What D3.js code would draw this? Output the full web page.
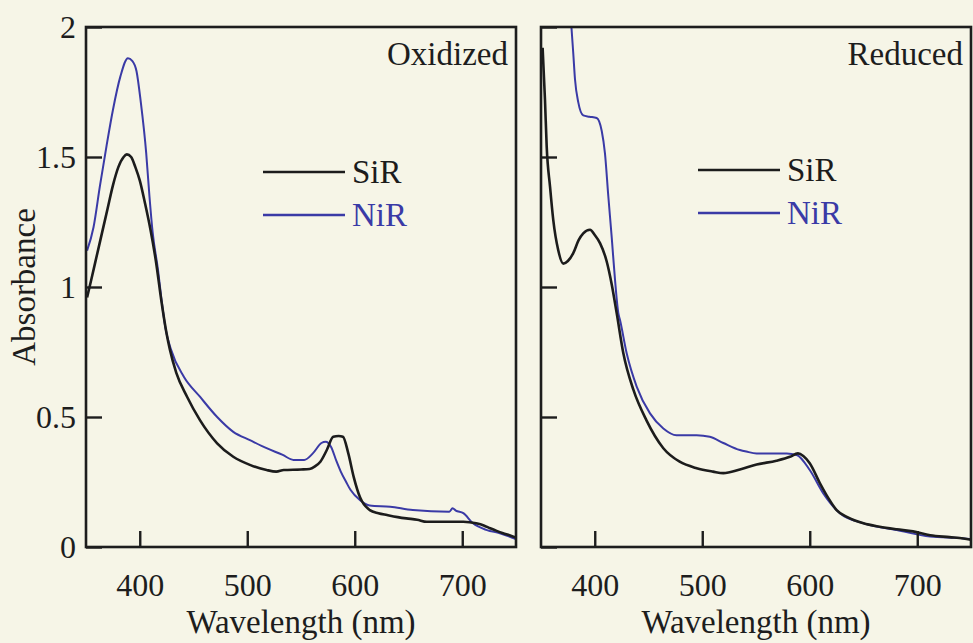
<!DOCTYPE html>
<html>
<head>
<meta charset="utf-8">
<script src="https://cdn.jsdelivr.net/npm/d3@7"></script>
<style>
  html, body { margin: 0; padding: 0; background: #f6f5e7; }
  svg { display: block; }
  text { font-family: "Liberation Serif", "Times New Roman", serif; fill: #1d1d1d; }
</style>
</head>
<body>
<svg id="chart" width="973" height="643"></svg>
<script>
// Absorption spectra of sulfite reductase (SiR) and nitrite reductase (NiR)

const seriesNames = ["SiR", "NiR"];
const seriesColors = ["#1c1c1c", "#3a3aa6"];
const panelTitles = ["Oxidized", "Reduced"];
const xTicks = [400, 500, 600, 700];
const yTicks = [0, 0.5, 1, 1.5, 2];
const yTickLabels = ["0", "0.5", "1", "1.5", "2"];

// Oxidized, SiR
const oxSiRnm  = [351, 355, 360, 365, 370, 375, 380, 385, 388, 392, 396, 400, 405, 410, 415, 420, 425, 428, 434, 444, 456, 472, 487, 503, 518, 527, 534, 550, 558, 563, 568, 574, 580, 585, 589, 594, 599, 605, 614, 622, 630, 640, 648, 658, 667, 685, 701, 713, 720, 726, 732, 738, 744, 750];
const oxSiRabs = [0.96, 1.03, 1.12, 1.21, 1.30, 1.39, 1.46, 1.50, 1.51, 1.50, 1.46, 1.41, 1.32, 1.22, 1.10, 0.95, 0.82, 0.76, 0.67, 0.578, 0.488, 0.399, 0.347, 0.315, 0.296, 0.29, 0.296, 0.298, 0.30, 0.31, 0.328, 0.373, 0.424, 0.427, 0.424, 0.36, 0.27, 0.19, 0.142, 0.13, 0.123, 0.115, 0.11, 0.105, 0.097, 0.097, 0.097, 0.091, 0.083, 0.072, 0.062, 0.053, 0.045, 0.036];

// Oxidized, NiR
const oxNiRnm  = [351, 357, 363, 369, 375, 382, 389, 393, 397, 401, 406, 409, 412, 417, 420, 424, 429, 441, 456, 472, 487, 503, 518, 533, 543, 553, 561, 569, 573, 578, 583, 587, 592, 596, 605, 614, 633, 654, 688, 691, 694, 701, 710, 723, 735, 748, 750];
const oxNiRabs = [1.14, 1.23, 1.39, 1.54, 1.68, 1.81, 1.88, 1.87, 1.83, 1.71, 1.515, 1.35, 1.21, 1.065, 0.96, 0.84, 0.76, 0.655, 0.578, 0.50, 0.443, 0.41, 0.38, 0.354, 0.335, 0.335, 0.36, 0.40, 0.405, 0.385, 0.33, 0.29, 0.25, 0.22, 0.18, 0.16, 0.155, 0.142, 0.136, 0.149, 0.14, 0.13, 0.091, 0.065, 0.053, 0.033, 0.03];

// Reduced, SiR
const redSiRnm  = [351.5, 353.7, 355.3, 358.4, 361.4, 366, 370.7, 375, 380, 385, 389.3, 395.6, 400, 405, 411, 415.8, 420.4, 426.6, 436, 448, 463.8, 479, 494.8, 510, 519.6, 535, 550.6, 569, 581.6, 589, 594, 600, 609.5, 617, 625, 635, 650, 665, 681, 696, 712, 730, 743, 750];
const redSiRabs = [1.92, 1.72, 1.54, 1.386, 1.258, 1.142, 1.09, 1.10, 1.13, 1.18, 1.206, 1.22, 1.20, 1.168, 1.10, 1.01, 0.90, 0.745, 0.604, 0.488, 0.38, 0.328, 0.303, 0.29, 0.284, 0.298, 0.317, 0.332, 0.347, 0.36, 0.35, 0.322, 0.245, 0.19, 0.142, 0.115, 0.091, 0.078, 0.068, 0.06, 0.045, 0.038, 0.033, 0.028];

// Reduced, NiR
const redNiRnm  = [378.3, 380, 381.6, 384.7, 389.3, 395, 401.8, 406.5, 409.5, 412.6, 415.8, 418.8, 421.9, 423.5, 429.7, 439, 451.4, 463.8, 476, 494.8, 507, 519.6, 535, 541, 550.6, 569, 578.6, 587.9, 600, 612.6, 628, 650, 681, 712, 743, 750];
const redNiRabs = [2.0, 1.90, 1.80, 1.71, 1.66, 1.655, 1.65, 1.60, 1.514, 1.35, 1.19, 1.03, 0.90, 0.873, 0.745, 0.617, 0.514, 0.456, 0.43, 0.43, 0.424, 0.40, 0.373, 0.367, 0.36, 0.36, 0.36, 0.354, 0.296, 0.206, 0.13, 0.091, 0.065, 0.04, 0.033, 0.03];

const panels = [
  { title: panelTitles[0], left: 86, showYLabels: true,
    series: [
      { name: seriesNames[0], color: seriesColors[0], nm: oxSiRnm, abs: oxSiRabs, width: 2.6 },
      { name: seriesNames[1], color: seriesColors[1], nm: oxNiRnm, abs: oxNiRabs, width: 2.0 }
    ],
    legendX: 263, legendY: 172 },
  { title: panelTitles[1], left: 541, showYLabels: false,
    series: [
      { name: seriesNames[0], color: seriesColors[0], nm: redSiRnm, abs: redSiRabs, width: 2.6 },
      { name: seriesNames[1], color: seriesColors[1], nm: redNiRnm, abs: redNiRabs, width: 2.0 }
    ],
    legendX: 698, legendY: 170 }
];

const W = 430, H = 520, TOP = 27;
const svg = d3.select("#chart");

const x = d3.scaleLinear().domain([350, 750]).range([0, W]);
const y = d3.scaleLinear().domain([0, 2]).range([H, 0]);

const line = d3.line()
  .x(d => x(d[0]))
  .y(d => y(d[1]))
  .curve(d3.curveMonotoneX);

panels.forEach((p, i) => {
  const g = svg.append("g").attr("transform", `translate(${p.left},${TOP})`);

  g.append("clipPath").attr("id", "clip" + i)
    .append("rect").attr("width", W).attr("height", H);

  // spectra
  const plot = g.append("g").attr("clip-path", `url(#clip${i})`);
  p.series.slice().reverse().forEach(s => {
    const pts = s.nm.map((v, k) => [v, s.abs[k]]);
    plot.append("path")
      .attr("d", line(pts))
      .attr("fill", "none")
      .attr("stroke", s.color)
      .attr("stroke-width", s.width)
      .attr("stroke-linejoin", "round");
  });

  // inward ticks on the bottom and left axes
  const xAxis = d3.axisBottom(x).tickValues(xTicks).tickSize(-16).tickPadding(26)
    .tickFormat(d3.format("d"));
  const xa = g.append("g").attr("transform", `translate(0,${H})`).call(xAxis);
  xa.select(".domain").remove();
  xa.selectAll(".tick line").attr("stroke", "#1d1d1d").attr("stroke-width", 2.4);
  xa.selectAll(".tick text")
    .attr("font-size", 32).attr("fill", "#1d1d1d")
    .attr("font-family", "'Liberation Serif', 'Times New Roman', serif");

  const yAxis = d3.axisLeft(y).tickValues(yTicks).tickSize(-16).tickPadding(10)
    .tickFormat((d, k) => p.showYLabels ? yTickLabels[k] : "");
  const ya = g.append("g").call(yAxis);
  ya.select(".domain").remove();
  ya.selectAll(".tick line").attr("stroke", "#1d1d1d").attr("stroke-width", 2.4);
  ya.selectAll(".tick text")
    .attr("font-size", 32).attr("fill", "#1d1d1d")
    .attr("font-family", "'Liberation Serif', 'Times New Roman', serif");

  // frame
  g.append("rect").attr("width", W).attr("height", H)
    .attr("fill", "none").attr("stroke", "#1d1d1d").attr("stroke-width", 2.6);

  // panel title
  g.append("text")
    .attr("x", W - 8).attr("y", 38)
    .attr("text-anchor", "end")
    .attr("font-size", 33)
    .text(p.title);

  // legend
  p.series.forEach((s, k) => {
    const ly = p.legendY - TOP + k * 43;
    g.append("line")
      .attr("x1", p.legendX - p.left).attr("x2", p.legendX - p.left + 82)
      .attr("y1", ly).attr("y2", ly)
      .attr("stroke", s.color).attr("stroke-width", 2.4);
    g.append("text")
      .attr("x", p.legendX - p.left + 89).attr("y", ly + 11)
      .attr("font-size", 33)
      .style("fill", s.color)
      .text(s.name);
  });

  // x-axis title
  g.append("text")
    .attr("x", W / 2).attr("y", H + 86)
    .attr("text-anchor", "middle")
    .attr("font-size", 33)
    .text("Wavelength (nm)");
});

// y-axis title
svg.append("text")
  .attr("transform", `translate(35,${TOP + H / 2}) rotate(-90)`)
  .attr("text-anchor", "middle")
  .attr("font-size", 33)
  .text("Absorbance");
</script>
</body>
</html>
